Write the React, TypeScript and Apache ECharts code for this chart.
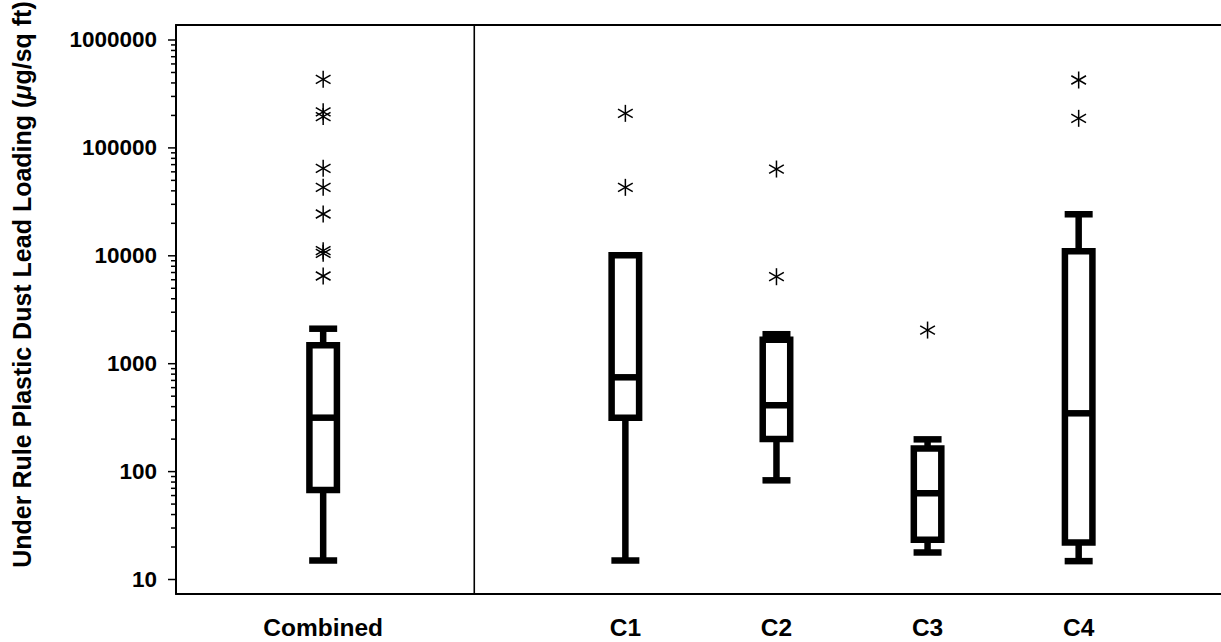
import React, { useEffect, useRef } from 'react';
import * as echarts from 'echarts';

// ---------- data ----------
const groups = ['Combined', 'C1', 'C2', 'C3', 'C4'];
const whiskerLow = [15, 15, 83, 17.8, 14.8];
const quartile1 = [67.5, 315, 200, 23.4, 22];
const medians = [316, 748, 412, 63, 347];
const quartile3 = [1482, 10100, 1668, 164, 11020];
const whiskerHigh = [2110, 10100, 1876, 199, 24260];

const outliersCombined = [432000, 216000, 195000, 64700, 43100, 24400, 11150, 10540, 6500];
const outliersC1 = [209000, 43100];
const outliersC2 = [63700, 6400];
const outliersC3 = [2050];
const outliersC4 = [425800, 188000];
const outliers = [outliersCombined, outliersC1, outliersC2, outliersC3, outliersC4];

const yTickLabels = ['10', '100', '1000', '10000', '100000', '1000000'];
const yTitle = 'Under Rule Plastic Dust Lead Loading ({mu|\u03BC}g/sq ft)';

// ---------- layout ----------
const slotPos = [0, 2, 3, 4, 5];
const dividerPos = 1;
const X_MIN = -0.974;
const X_MAX = 5.942;
const Y_MIN = 7.339;
const Y_MAX = 1377200;
const FONT = '"Liberation Sans", Arial, Helvetica, sans-serif';
const BLACK = '#000';

const boxData = groups.map((_, i) => [
  slotPos[i], whiskerLow[i], quartile1[i], medians[i], quartile3[i], whiskerHigh[i], i,
]);

const outlierData: number[][] = [];
outliers.forEach((list, gi) => list.forEach((v) => outlierData.push([slotPos[gi], v])));

const majorTicks = yTickLabels.map((t) => Number(t));
const tickData: number[][] = [];
majorTicks.forEach((v) => tickData.push([0, v, 1]));
for (let e = 1; e < 6; e++) {
  for (let k = 2; k <= 9; k++) tickData.push([0, k * Math.pow(10, e), 0]);
}

export default function App() {
  const ref = useRef<HTMLDivElement>(null);

  useEffect(() => {
    if (!ref.current) return;
    const chart = echarts.init(ref.current, null, { renderer: 'svg' });
    const option: any = {
      animation: false,
      backgroundColor: '#fff',
      grid: { left: 176, right: 0, top: 25, bottom: 48, containLabel: false, outerBoundsMode: 'none' },
      xAxis: [
        {
          type: 'value',
          min: X_MIN,
          max: X_MAX,
          axisLine: { show: true, onZero: false, lineStyle: { color: BLACK, width: 2 } },
          axisTick: { show: false },
          axisLabel: { show: false },
          splitLine: { show: false },
        },
        {
          type: 'value',
          position: 'top',
          min: X_MIN,
          max: X_MAX,
          axisLine: { show: true, onZero: false, lineStyle: { color: BLACK, width: 2 } },
          axisTick: { show: false },
          axisLabel: { show: false },
          splitLine: { show: false },
        },
      ],
      yAxis: {
        type: 'log',
        logBase: 10,
        min: Y_MIN,
        max: Y_MAX,
        axisLine: { show: true, onZero: false, lineStyle: { color: BLACK, width: 2 } },
        axisTick: { show: false },
        minorTick: { show: false },
        splitLine: { show: false },
        axisLabel: {
          margin: 19,
          fontSize: 22.5,
          fontWeight: 'bold',
          fontFamily: FONT,
          color: BLACK,
          formatter: (v: number) => {
            const s = String(Math.round(v));
            const l = Math.log10(v);
            return Math.abs(l - Math.round(l)) < 1e-6 && yTickLabels.includes(s) ? s : '';
          },
        },
      },
      graphic: [
        {
          type: 'text',
          x: 21.5,
          y: 284.5,
          rotation: Math.PI / 2,
          style: {
            text: yTitle,
            fill: BLACK,
            font: `bold 25px ${FONT}`,
            fontSize: 25,
            fontWeight: 'bold',
            fontFamily: FONT,
            align: 'center',
            verticalAlign: 'middle',
            textAlign: 'center',
            textVerticalAlign: 'middle',
            rich: {
              mu: { fontSize: 25, fontWeight: 'bold', fontStyle: 'italic', fontFamily: FONT, fill: BLACK },
            },
          },
        },
      ],
      series: [
        // divider line
        {
          type: 'custom',
          clip: false,
          silent: true,
          data: [[dividerPos, 100]],
          renderItem: (params: any, api: any) => {
            const cs = params.coordSys;
            const x = api.coord([api.value(0), api.value(1)])[0];
            return {
              type: 'line',
              shape: { x1: x, y1: cs.y, x2: x, y2: cs.y + cs.height },
              style: { stroke: BLACK, lineWidth: 1.6 },
            };
          },
        },
        // y axis ticks (major + minor, log spaced)
        {
          type: 'custom',
          clip: false,
          silent: true,
          data: tickData,
          renderItem: (params: any, api: any) => {
            const cs = params.coordSys;
            const y = api.coord([api.value(0), api.value(1)])[1];
            const len = api.value(2) ? 8 : 5;
            return {
              type: 'line',
              shape: { x1: cs.x - len, y1: y, x2: cs.x, y2: y },
              style: { stroke: BLACK, lineWidth: 1.5 },
            };
          },
        },
        // boxes
        {
          type: 'custom',
          clip: false,
          silent: true,
          data: boxData,
          encode: { x: 0, y: [1, 2, 3, 4, 5] },
          renderItem: (params: any, api: any) => {
            const cs = params.coordSys;
            const x = api.value(0);
            const pLow = api.coord([x, api.value(1)]);
            const pQ1 = api.coord([x, api.value(2)]);
            const pMed = api.coord([x, api.value(3)]);
            const pQ3 = api.coord([x, api.value(4)]);
            const pHigh = api.coord([x, api.value(5)]);
            const idx = api.value(6);
            const cx = pLow[0];
            const hw = 13.75;
            const capW = 14;
            const lw = 6.5;
            const st = { stroke: BLACK, lineWidth: lw };
            return {
              type: 'group',
              children: [
                { type: 'line', shape: { x1: cx, y1: pHigh[1], x2: cx, y2: pQ3[1] }, style: st },
                { type: 'line', shape: { x1: cx, y1: pQ1[1], x2: cx, y2: pLow[1] }, style: st },
                { type: 'line', shape: { x1: cx - capW, y1: pHigh[1], x2: cx + capW, y2: pHigh[1] }, style: st },
                { type: 'line', shape: { x1: cx - capW, y1: pLow[1], x2: cx + capW, y2: pLow[1] }, style: st },
                {
                  type: 'rect',
                  shape: { x: cx - hw, y: pQ3[1], width: hw * 2, height: pQ1[1] - pQ3[1] },
                  style: { fill: '#fff', stroke: BLACK, lineWidth: lw },
                },
                { type: 'line', shape: { x1: cx - hw, y1: pMed[1], x2: cx + hw, y2: pMed[1] }, style: st },
                {
                  type: 'text',
                  x: cx,
                  y: cs.y + cs.height + 33,
                  style: {
                    text: groups[idx],
                    fill: BLACK,
                    font: `bold 24.5px ${FONT}`,
                    fontSize: 24.5,
                    fontWeight: 'bold',
                    fontFamily: FONT,
                    align: 'center',
                    verticalAlign: 'middle',
                    textAlign: 'center',
                    textVerticalAlign: 'middle',
                  },
                },
              ],
            };
          },
        },
        // outliers (asterisks)
        {
          type: 'custom',
          clip: false,
          silent: true,
          data: outlierData,
          renderItem: (params: any, api: any) => {
            const p = api.coord([api.value(0), api.value(1)]);
            const r = 8.5;
            const dx = r * Math.cos(Math.PI / 6);
            const dy = r * Math.sin(Math.PI / 6);
            const st = { stroke: BLACK, lineWidth: 1.5 };
            return {
              type: 'group',
              children: [
                { type: 'line', shape: { x1: p[0], y1: p[1] - r, x2: p[0], y2: p[1] + r }, style: st },
                { type: 'line', shape: { x1: p[0] - dx, y1: p[1] - dy, x2: p[0] + dx, y2: p[1] + dy }, style: st },
                { type: 'line', shape: { x1: p[0] - dx, y1: p[1] + dy, x2: p[0] + dx, y2: p[1] - dy }, style: st },
              ],
            };
          },
        },
      ],
    };
    chart.setOption(option);
    return () => chart.dispose();
  }, []);

  return (
    <div
      ref={ref}
      style={{ position: 'absolute', left: 0, top: 0, width: 1221, height: 642, background: '#fff' }}
    />
  );
}
